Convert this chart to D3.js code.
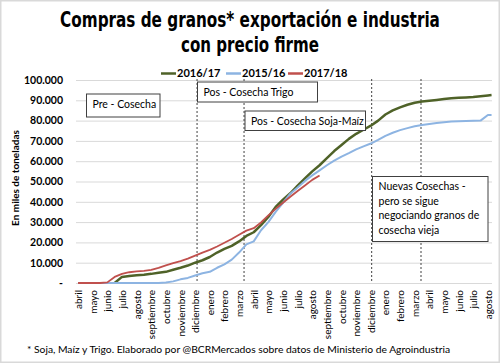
<!DOCTYPE html>
<html>
<head>
<meta charset="utf-8">
<script src="https://cdn.jsdelivr.net/npm/d3@7"></script>
<style>
  body { margin: 0; background: #fff; }
  text { font-family: Lato, "Open Sans", sans-serif; fill: #000; }
</style>
</head>
<body>
<div id="chart"></div>
<script>
// Compras de granos con precio firme - three campaigns on a shared month axis

// month labels (abril of year 1 to agosto of year 3)
const monthLabels = ["abril","mayo","junio","julio","agosto","septiembre","octubre","noviembre","diciembre",
  "enero","febrero","marzo","abril","mayo","junio","julio","agosto","septiembre","octubre","noviembre",
  "diciembre","enero","febrero","marzo","abril","mayo","junio","julio","agosto"]

// sampling points, in months from the first abril
const months = [0,0.5,1,1.5,2,2.5,3,3.5,4,4.5,5,5.5,6,6.5,7,7.5,8,8.5,9,9.5,10,10.5,11,11.5,12,12.5,
  13,13.5,14,14.5,15,15.5,16,16.5,17,17.5,18,18.5,19,19.5,20,20.5,21,21.5,22,22.5,23,23.5,24,24.5,
  25,25.5,26,26.5,27,27.5,28,28.25]

// values in miles de toneladas
const serie1617 = [null,null,null,null,null,0,3000,3400,3800,4100,4500,5000,5500,6500,7500,8600,10000,
  11200,12800,15000,16800,18300,20500,23200,25000,28500,32500,37500,41000,44200,48000,51500,55000,
  58000,61500,65000,68000,71000,73500,75500,77500,80000,83000,85000,86500,87800,88800,89400,89800,
  90200,90600,91000,91200,91400,91600,92000,92400,92600]
const serie1516 = [0,0,0,0,0,0,0,0,0,0,0,0,300,800,1800,2500,3700,4800,5500,7500,9200,11500,15000,19000,
  20500,26000,30000,35000,39500,44000,47000,50300,53000,55500,58000,60300,62300,64000,65800,67300,
  68700,70500,72500,74000,75300,76300,77200,77800,78300,78800,79200,79500,79700,79800,79900,80000,
  82800,82800]
const serie1718 = [0,0,0,0,300,3000,4500,5300,5700,6000,6500,7500,8700,9800,10800,12000,13500,15000,
  16300,18000,19800,21700,23800,25800,27000,29800,33300,36500,39500,42500,45300,48000,50800,53000]

const seriesNames = ["2016/17","2015/16","2017/18"]
const seriesColors = ["#4f6228","#8db4e2","#c0504d"]
const seriesWidths = [2.5,2,1.8]
const seriesData = [serie1617, serie1516, serie1718]

const yTicks = [0,10000,20000,30000,40000,50000,60000,70000,80000,90000,100000]

// period marks (months) and annotation texts
const dividers = [8.13, 11.34, 20.06, 23.43]
const notes = [
  {lines: ["Pre - Cosecha"], x: 86.5, y: 94, w: 73.5, h: 23},
  {lines: ["Pos - Cosecha Trigo"], x: 197.5, y: 82, w: 120, h: 20},
  {lines: ["Pos - Cosecha Soja-Maíz"], x: 245, y: 111, w: 120.5, h: 19.5},
  {lines: ["Nuevas Cosechas -","pero se sigue","negociando granos de","cosecha vieja"], x: 372.5, y: 176.5, w: 115.5, h: 65}
]

const W = 500, H = 363
const svg = d3.select("#chart").append("svg").attr("width", W).attr("height", H)

svg.append("rect").attr("x", 0.75).attr("y", 0.75).attr("width", W - 1.5).attr("height", H - 1.5)
  .attr("fill", "#fff").attr("stroke", "#d9d9d9").attr("stroke-width", 1.5)

// title: no condensed font here, so squeeze it horizontally to the target width
const titleLines = [["Compras de granos* exportación e industria", 27, 380], ["con precio firme", 52, 138]]
titleLines.forEach(function(t) {
  const g = svg.append("g")
  const txt = g.append("text").attr("text-anchor", "middle")
    .style("font-family", "'DejaVu Sans Condensed', 'Liberation Sans', sans-serif")
    .style("font-weight", "bold").style("font-size", "22px").text(t[0])
  const k = t[2] / txt.node().getComputedTextLength()
  g.attr("transform", "translate(250," + t[1] + ") scale(" + k + ",1)")
})

// scales
const x = d3.scaleLinear().domain([-0.14, 28.28]).range([76, 492])
const y = d3.scaleLinear().domain([0, 100000]).range([283, 80])

// gridlines
svg.append("g").selectAll("line").data(yTicks).enter().append("line")
  .attr("x1", x.range()[0]).attr("x2", x.range()[1])
  .attr("y1", d => y(d) + 0.5).attr("y2", d => y(d) + 0.5)
  .attr("stroke", "#d9d9d9").attr("stroke-width", 1)

// y axis
const fmt = d => d === 0 ? "-" : d3.format(",")(d).replace(/,/g, ".")
const yAxis = svg.append("g").attr("transform", "translate(" + x.range()[0] + ",0)")
  .call(d3.axisLeft(y).tickValues(yTicks).tickSize(0).tickPadding(13).tickFormat(fmt))
yAxis.select(".domain").remove()
yAxis.selectAll("text").style("font-family", "Lato, sans-serif").style("font-size", "10.5px")
  .style("font-weight", "bold").attr("fill", "#000")

svg.append("text").attr("transform", "translate(19,178) rotate(-90)").attr("text-anchor", "middle")
  .style("font-size", "10px").style("font-weight", "bold").text("En miles de toneladas")

// x axis
const xAxis = svg.append("g").attr("transform", "translate(0," + y(0) + ")")
  .call(d3.axisBottom(x).tickValues(d3.range(monthLabels.length)).tickSize(0).tickFormat(i => monthLabels[i]))
xAxis.select(".domain").remove()
xAxis.selectAll("text").attr("transform", "rotate(-90)").attr("x", -7).attr("y", 0).attr("dy", "0.35em")
  .attr("text-anchor", "end").style("font-family", "Lato, sans-serif").style("font-size", "10px").attr("fill", "#000")

// dashed dividers
svg.append("g").selectAll("line").data(dividers).enter().append("line")
  .attr("x1", d => x(d)).attr("x2", d => x(d)).attr("y1", 79).attr("y2", y(0))
  .attr("stroke", "#404040").attr("stroke-width", 1).attr("stroke-dasharray", "2,2")

// series lines
const line = d3.line().defined(d => d != null).x((d, i) => x(months[i])).y(d => y(d))
seriesData.forEach(function(s, k) {
  svg.append("path").datum(s).attr("d", line).attr("fill", "none")
    .attr("stroke", seriesColors[k]).attr("stroke-width", seriesWidths[k]).attr("stroke-linejoin", "round")
})

// annotation boxes
notes.forEach(function(n) {
  svg.append("rect").attr("x", n.x).attr("y", n.y).attr("width", n.w).attr("height", n.h)
    .attr("fill", "#fff").attr("stroke", "#404040").attr("stroke-width", 1)
  const t = svg.append("text").style("font-size", "10.5px")
  n.lines.forEach(function(l, i) {
    t.append("tspan").attr("x", n.x + 6).attr("y", n.y + 13.5 + i * 14.5).text(l)
  })
})

// legend
const legX = [161, 226, 288]
seriesNames.forEach(function(name, k) {
  svg.append("line").attr("x1", legX[k]).attr("x2", legX[k] + 15).attr("y1", 73.5).attr("y2", 73.5)
    .attr("stroke", seriesColors[k]).attr("stroke-width", 2.5)
  svg.append("text").attr("x", legX[k] + 16).attr("y", 77).style("font-size", "11px")
    .style("font-weight", "bold").text(name)
})

// footnote
svg.append("text").attr("x", 27).attr("y", 353).style("font-size", "10.3px")
  .text("* Soja, Maíz y Trigo. Elaborado por @BCRMercados  sobre datos de Ministerio de Agroindustria")
</script>
</body>
</html>
